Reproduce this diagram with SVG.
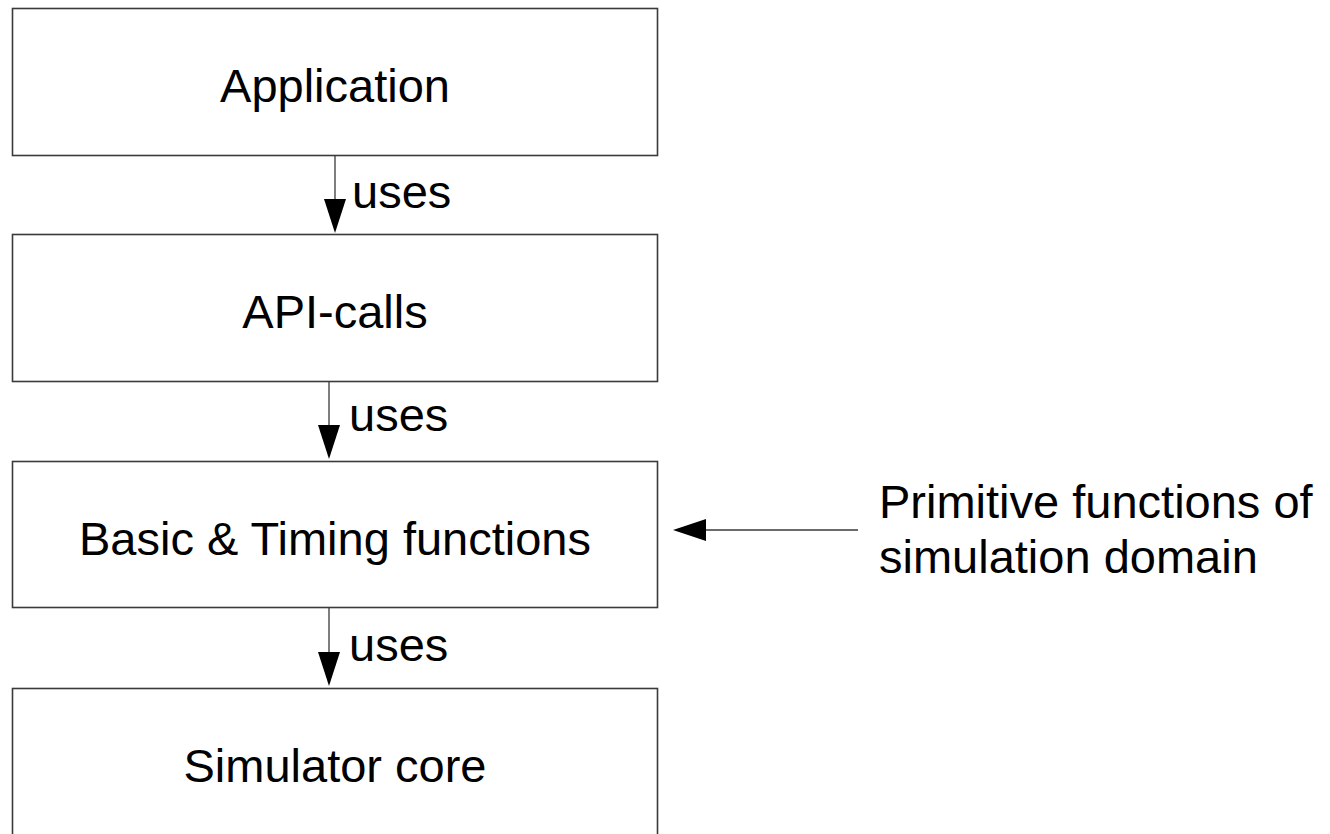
<svg xmlns="http://www.w3.org/2000/svg" width="1330" height="834" viewBox="0 0 1330 834">
  <style>
    .box { fill: #ffffff; stroke: #3a3a3a; stroke-width: 1.6; }
    .lbl { font-family: "Liberation Sans", Arial, sans-serif; font-size: 47px; fill: #000000; }
    .mid { text-anchor: middle; }
    .edge { fill: none; stroke: #3a3a3a; stroke-width: 1.3; }
    .head { fill: #000000; stroke: none; }
  </style>
  <rect width="1330" height="834" fill="#ffffff"/>

  <g id="node-application">
    <rect class="box" x="12.5" y="8.5" width="645" height="147"/>
    <text class="lbl mid" x="335" y="102">Application</text>
  </g>

  <g id="node-api-calls">
    <rect class="box" x="12.5" y="234.5" width="645" height="147"/>
    <text class="lbl mid" x="335" y="328">API-calls</text>
  </g>

  <g id="node-basic-timing">
    <rect class="box" x="12.5" y="461.5" width="645" height="146"/>
    <text class="lbl mid" x="335" y="555">Basic &amp; Timing functions</text>
  </g>

  <g id="node-simulator-core">
    <rect class="box" x="12.5" y="688.5" width="645" height="147"/>
    <text class="lbl mid" x="335" y="782">Simulator core</text>
  </g>

  <g id="node-primitive-note">
    <text class="lbl" x="879" y="518">Primitive functions of</text>
    <text class="lbl" x="879" y="573">simulation domain</text>
  </g>

  <g id="connectors">
    <!-- Application -> API-calls -->
    <line class="edge" x1="335" y1="155.5" x2="335" y2="200"/>
    <polygon class="head" points="324,199 346,199 335,233"/>
    <text class="lbl" x="352" y="208">uses</text>

    <!-- API-calls -> Basic & Timing -->
    <line class="edge" x1="329" y1="381.5" x2="329" y2="426"/>
    <polygon class="head" points="318,425 340,425 329,459"/>
    <text class="lbl" x="349" y="431">uses</text>

    <!-- Basic & Timing -> Simulator core -->
    <line class="edge" x1="329" y1="607.5" x2="329" y2="653"/>
    <polygon class="head" points="318,652 340,652 329,686"/>
    <text class="lbl" x="349" y="661">uses</text>

    <!-- Primitive functions -> Basic & Timing -->
    <line class="edge" x1="858" y1="530" x2="705" y2="530"/>
    <polygon class="head" points="706,519 706,541 673,530"/>
  </g>
</svg>
